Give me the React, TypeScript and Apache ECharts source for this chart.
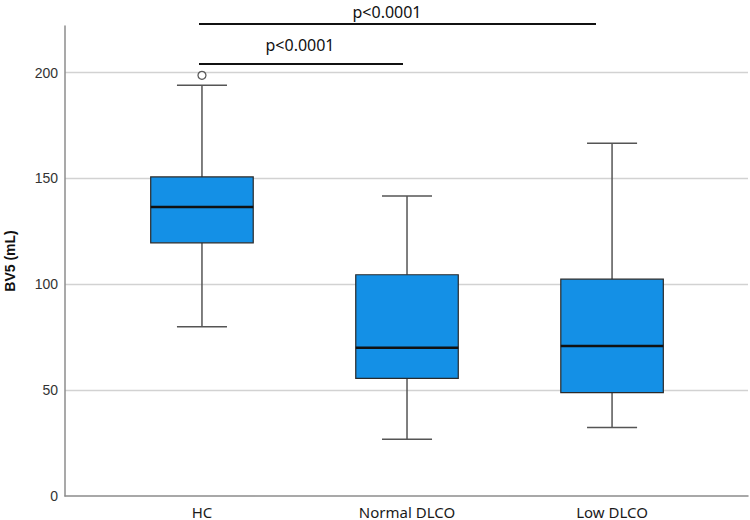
import React, { useEffect, useRef } from "react";
import * as echarts from "echarts";

const categories = ["HC", "Normal DLCO", "Low DLCO"];
const whiskerLow = [80, 26.8, 32.3];
const q1 = [119.6, 55.6, 48.8];
const median = [136.5, 70, 70.9];
const q3 = [150.7, 104.5, 102.4];
const whiskerHigh = [194, 141.7, 166.6];
const outliers: [number, number][] = [[0, 198.7]];
const yTicks = [0, 50, 100, 150, 200];
const pLabels = ["p<0.0001", "p<0.0001"];

export default function App() {
  const ref = useRef<HTMLDivElement>(null);
  useEffect(() => {
    if (!ref.current) return;
    const chart = echarts.init(ref.current, undefined, { renderer: "svg" });
    const rows = categories.map((_, i) => [i, whiskerLow[i], q1[i], median[i], q3[i], whiskerHigh[i]]);
    const option: any = {
      animation: false,
      backgroundColor: "#ffffff",
      grid: { left: 65, right: 2, top: 26, bottom: 24 },
      xAxis: {
        type: "value",
        min: -0.668,
        max: 2.663,
        axisLine: { show: true, onZero: false, lineStyle: { color: "#8c8c8c", width: 1.5 } },
        axisTick: { show: false },
        splitLine: { show: false },
        axisLabel: {
          customValues: [0, 1, 2],
          formatter: (v: number) => categories[Math.round(v)] ?? "",
          fontFamily: "Noto Sans",
          fontSize: 15,
          color: "#1a1a1a",
          margin: 8,
        },
      },
      yAxis: {
        type: "value",
        min: 0,
        max: 222,
        interval: 50,
        axisLine: { show: true, onZero: false, lineStyle: { color: "#8c8c8c", width: 1.5 } },
        axisTick: { show: false },
        splitLine: {
          show: true,
          showMaxLine: false,
          showMinLine: false,
          lineStyle: { color: "#d2d2d2", width: 1.3 },
        },
        axisLabel: {
          showMaxLabel: false,
          formatter: (v: number) => (yTicks.indexOf(v) >= 0 ? String(v) : ""),
          fontFamily: "Liberation Sans",
          fontSize: 14,
          color: "#333333",
          margin: 7,
        },
      },
      series: [
        {
          type: "custom",
          data: rows,
          encode: { x: 0, y: [1, 2, 3, 4, 5] },
          renderItem: (params: any, api: any) => {
            const i = api.value(0);
            const unit = api.size([1, 0])[0];
            const half = unit * 0.25;
            const capHalf = unit * 0.122;
            const pLow = api.coord([i, api.value(1)]);
            const pQ1 = api.coord([i, api.value(2)]);
            const pMed = api.coord([i, api.value(3)]);
            const pQ3 = api.coord([i, api.value(4)]);
            const pHigh = api.coord([i, api.value(5)]);
            const cx = pMed[0];
            const wStyle = { stroke: "#555555", lineWidth: 1.5 };
            return {
              type: "group",
              children: [
                { type: "line", shape: { x1: cx, y1: pHigh[1], x2: cx, y2: pQ3[1] }, style: wStyle },
                { type: "line", shape: { x1: cx, y1: pQ1[1], x2: cx, y2: pLow[1] }, style: wStyle },
                { type: "line", shape: { x1: cx - capHalf, y1: pHigh[1], x2: cx + capHalf, y2: pHigh[1] }, style: wStyle },
                { type: "line", shape: { x1: cx - capHalf, y1: pLow[1], x2: cx + capHalf, y2: pLow[1] }, style: wStyle },
                {
                  type: "rect",
                  shape: { x: cx - half, y: pQ3[1], width: half * 2, height: pQ1[1] - pQ3[1] },
                  style: { fill: "#1490e6", stroke: "#2a2a2a", lineWidth: 1.2 },
                },
                {
                  type: "line",
                  shape: { x1: cx - half, y1: pMed[1], x2: cx + half, y2: pMed[1] },
                  style: { stroke: "#111111", lineWidth: 2.5 },
                },
              ],
            };
          },
        },
        {
          type: "scatter",
          data: outliers,
          symbol: "circle",
          symbolSize: 8,
          itemStyle: { color: "#ffffff", borderColor: "#333333", borderWidth: 1.3 },
          z: 5,
        },
      ],
      graphic: [
        {
          type: "text",
          x: 9.5,
          y: 261,
          rotation: Math.PI / 2,
          style: {
            text: "BV5 (mL)",
            font: "bold 14px 'Liberation Sans'",
            fill: "#111111",
            textAlign: "center",
            textVerticalAlign: "middle",
            align: "center",
            verticalAlign: "middle",
          },
        },
        {
          type: "line",
          shape: { x1: 199, y1: 64, x2: 403, y2: 64 },
          style: { stroke: "#111111", lineWidth: 2.2 },
        },
        {
          type: "line",
          shape: { x1: 199, y1: 24, x2: 596, y2: 24 },
          style: { stroke: "#111111", lineWidth: 2.2 },
        },
        {
          type: "text",
          x: 300,
          y: 45,
          style: {
            text: pLabels[0],
            font: "16px 'Noto Sans'",
            lineHeight: 16,
            fill: "#111111",
            textAlign: "center",
            textVerticalAlign: "middle",
            align: "center",
            verticalAlign: "middle",
          },
        },
        {
          type: "text",
          x: 387,
          y: 12,
          style: {
            text: pLabels[1],
            font: "16px 'Noto Sans'",
            lineHeight: 16,
            fill: "#111111",
            textAlign: "center",
            textVerticalAlign: "middle",
            align: "center",
            verticalAlign: "middle",
          },
        },
      ],
    };
    chart.setOption(option);
    return () => chart.dispose();
  }, []);
  return <div ref={ref} style={{ position: "fixed", left: 0, top: 0, width: 750, height: 520 }} />;
}
